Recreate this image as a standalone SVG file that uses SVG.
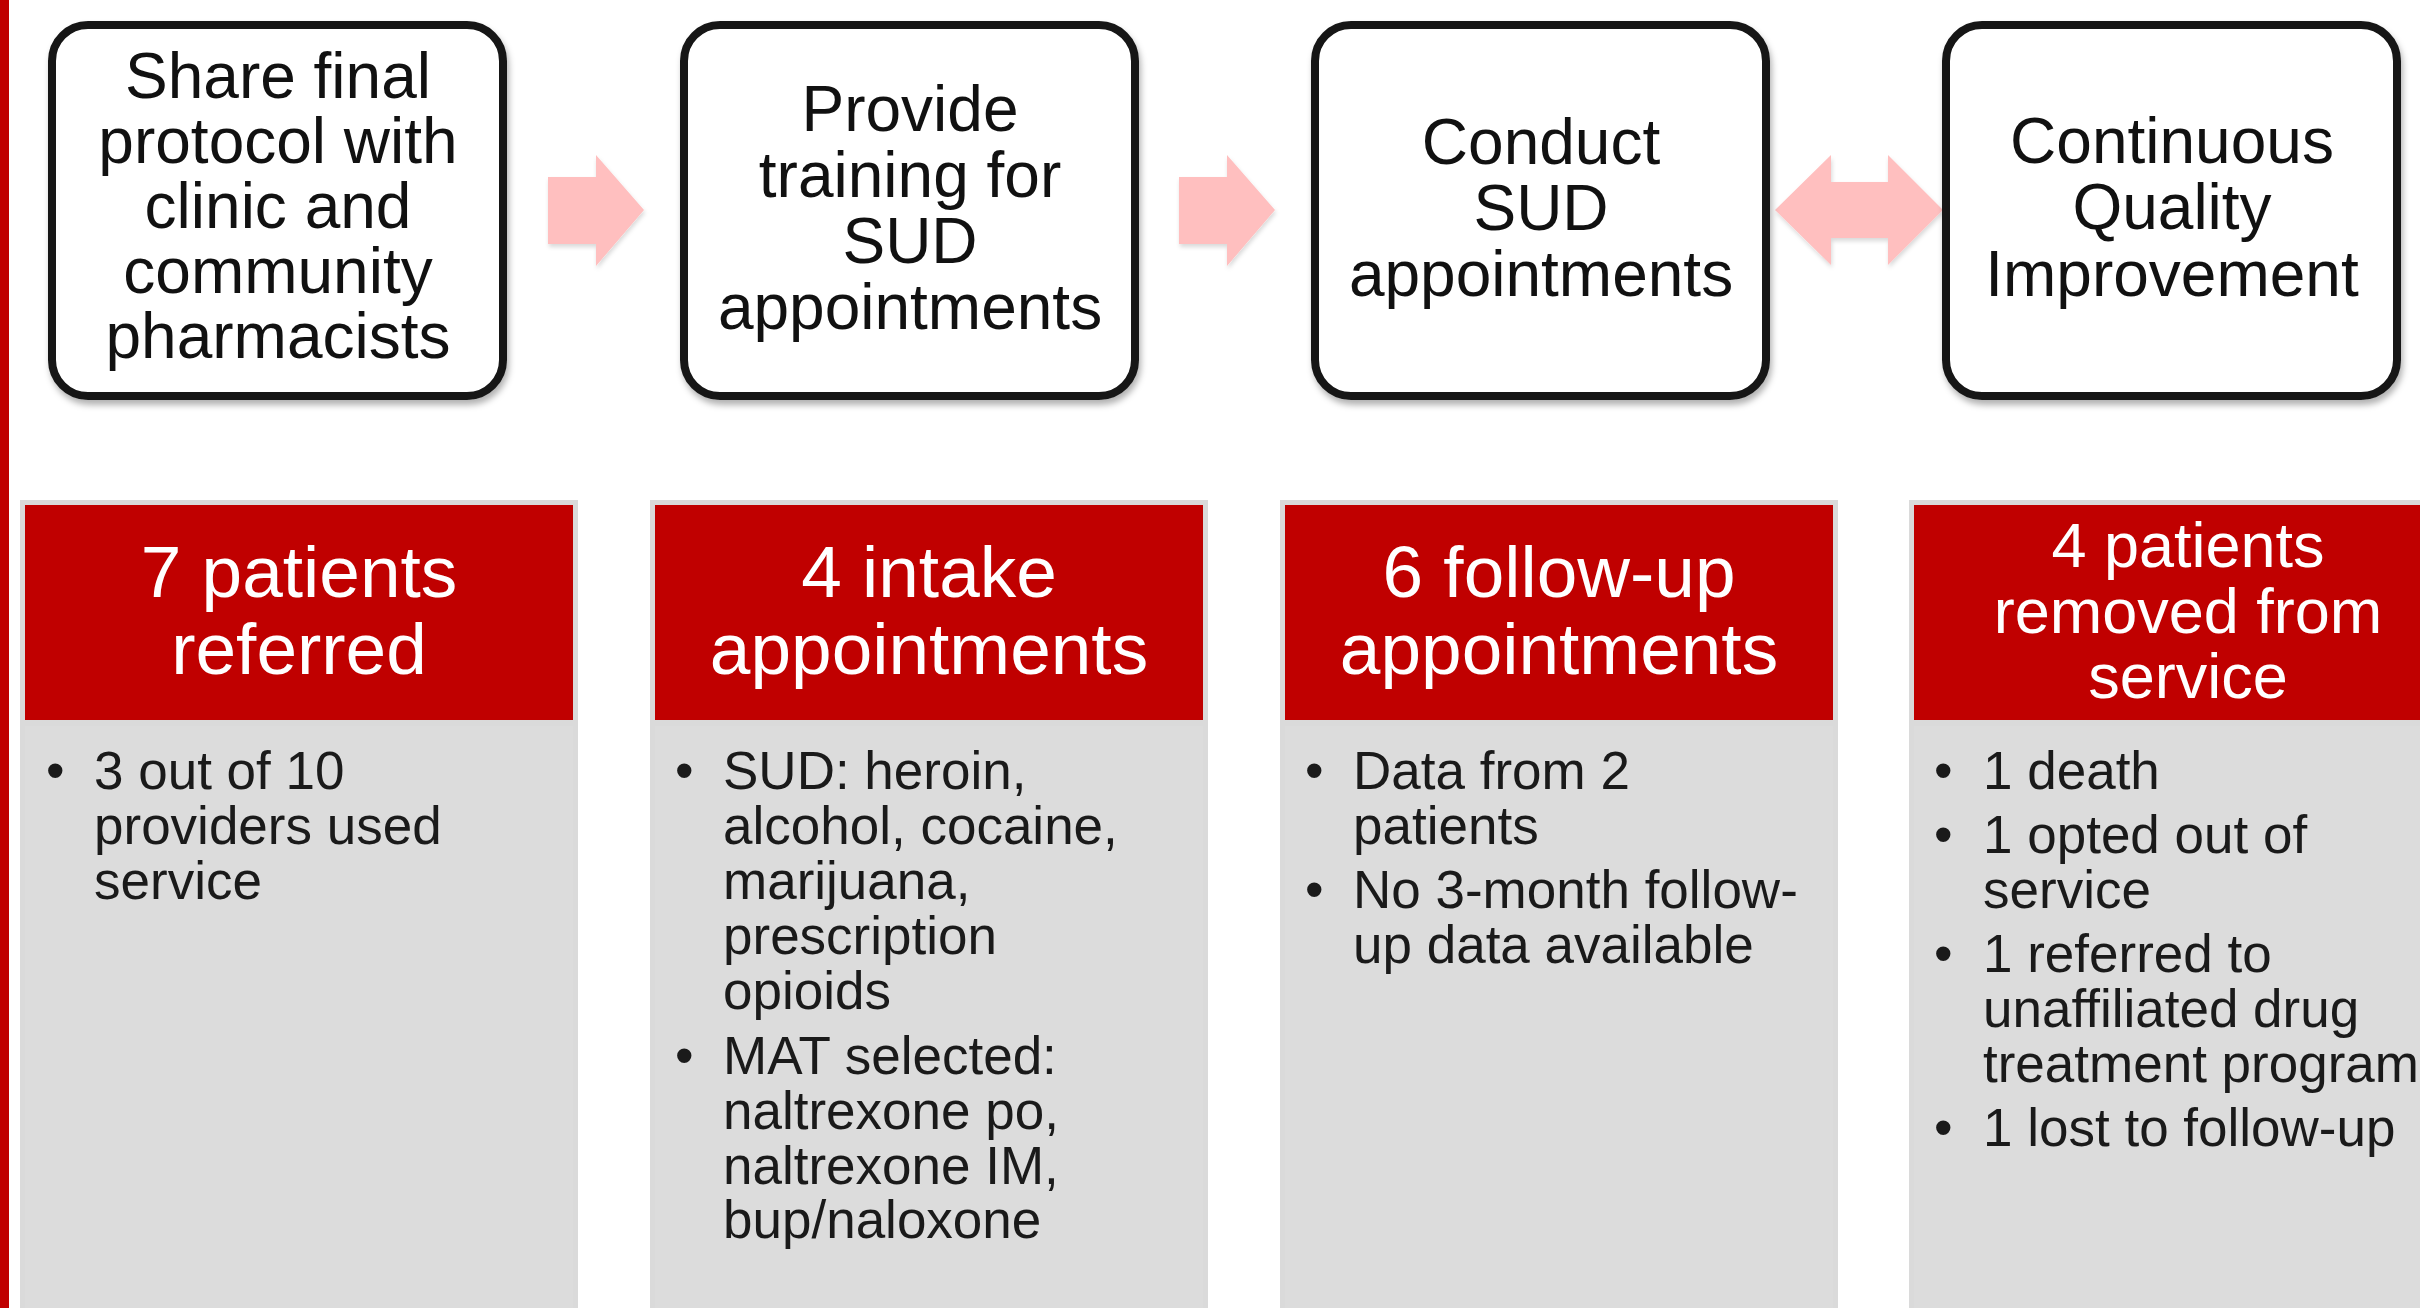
<svg xmlns="http://www.w3.org/2000/svg" width="2420" height="1308" viewBox="0 0 2420 1308">
<defs>
<style>
.box{fill:#ffffff;stroke:#151515;stroke-width:8}
.bt{font-family:"Liberation Sans",Arial,sans-serif;font-size:64px;fill:#111111;text-anchor:middle}
.arr{fill:#ffbfbf}
.pb{fill:#dadada}
.ph{fill:#c00000}
.pg{fill:#dcdcdc}
.ht{font-family:"Liberation Sans",Arial,sans-serif;font-size:73px;fill:#ffffff;text-anchor:middle}
.ht4{font-family:"Liberation Sans",Arial,sans-serif;font-size:63px;fill:#ffffff;text-anchor:middle}
.tx{font-family:"Liberation Sans",Arial,sans-serif;font-size:53px;fill:#1a1a1a}
</style>
<filter id="sh" x="-10%" y="-10%" width="120%" height="130%">
<feDropShadow dx="2" dy="5" stdDeviation="3" flood-color="#000000" flood-opacity="0.3"/>
</filter>
<filter id="ash" x="-10%" y="-10%" width="130%" height="130%">
<feDropShadow dx="1" dy="3" stdDeviation="2" flood-color="#000000" flood-opacity="0.15"/>
</filter>
</defs>
<rect x="0" y="0" width="2420" height="1308" fill="#ffffff"/>
<rect id="leftbar" x="0" y="0" width="9" height="1308" fill="#c00000"/>

<g id="connectors">
<polygon class="arr" filter="url(#ash)" points="548,177 596,177 596,155 644,210 596,266 596,244 548,244"/>
<polygon class="arr" filter="url(#ash)" points="1179,177 1227,177 1227,155 1275,210 1227,266 1227,244 1179,244"/>
<polygon class="arr" filter="url(#ash)" points="1775,210 1831,155 1831,182 1888,182 1888,155 1943,210 1888,265 1888,238 1831,238 1831,265"/>
</g>

<g id="step1">
<rect class="box" filter="url(#sh)" x="52" y="25" width="451" height="371" rx="36"/>
<text class="bt"><tspan x="278" y="98">Share final</tspan><tspan x="278" y="163">protocol with</tspan><tspan x="278" y="228">clinic and</tspan><tspan x="278" y="293">community</tspan><tspan x="278" y="358">pharmacists</tspan></text>
</g>
<g id="step2">
<rect class="box" filter="url(#sh)" x="684" y="25" width="451" height="371" rx="36"/>
<text class="bt"><tspan x="910" y="131">Provide</tspan><tspan x="910" y="197">training for</tspan><tspan x="910" y="263">SUD</tspan><tspan x="910" y="329">appointments</tspan></text>
</g>
<g id="step3">
<rect class="box" filter="url(#sh)" x="1315" y="25" width="451" height="371" rx="36"/>
<text class="bt"><tspan x="1541" y="164">Conduct</tspan><tspan x="1541" y="230">SUD</tspan><tspan x="1541" y="296">appointments</tspan></text>
</g>
<g id="step4">
<rect class="box" filter="url(#sh)" x="1946" y="25" width="451" height="371" rx="36"/>
<text class="bt"><tspan x="2172" y="163">Continuous</tspan><tspan x="2172" y="229">Quality</tspan><tspan x="2172" y="296">Improvement</tspan></text>
</g>

<g id="panel1">
<rect class="pb" x="20" y="500" width="558" height="820"/>
<rect class="ph" x="25" y="505" width="548" height="215"/>
<rect class="pg" x="25" y="726" width="548" height="600"/>
<text class="ht"><tspan x="299" y="597">7 patients</tspan><tspan x="299" y="674">referred</tspan></text>
<text class="tx"><tspan x="46" y="789">•</tspan><tspan x="94" y="789">3 out of 10</tspan><tspan x="94" y="844">providers used</tspan><tspan x="94" y="899">service</tspan></text>
</g>
<g id="panel2">
<rect class="pb" x="650" y="500" width="558" height="820"/>
<rect class="ph" x="655" y="505" width="548" height="215"/>
<rect class="pg" x="655" y="726" width="548" height="600"/>
<text class="ht"><tspan x="929" y="597">4 intake</tspan><tspan x="929" y="674">appointments</tspan></text>
<text class="tx"><tspan x="675" y="789">•</tspan><tspan x="723" y="789">SUD: heroin,</tspan><tspan x="723" y="844">alcohol, cocaine,</tspan><tspan x="723" y="899">marijuana,</tspan><tspan x="723" y="954">prescription</tspan><tspan x="723" y="1009">opioids</tspan><tspan x="675" y="1074">•</tspan><tspan x="723" y="1074">MAT selected:</tspan><tspan x="723" y="1129">naltrexone po,</tspan><tspan x="723" y="1184">naltrexone IM,</tspan><tspan x="723" y="1238">bup/naloxone</tspan></text>
</g>
<g id="panel3">
<rect class="pb" x="1280" y="500" width="558" height="820"/>
<rect class="ph" x="1285" y="505" width="548" height="215"/>
<rect class="pg" x="1285" y="726" width="548" height="600"/>
<text class="ht"><tspan x="1559" y="597">6 follow-up</tspan><tspan x="1559" y="674">appointments</tspan></text>
<text class="tx"><tspan x="1305" y="789">•</tspan><tspan x="1353" y="789">Data from 2</tspan><tspan x="1353" y="844">patients</tspan><tspan x="1305" y="908">•</tspan><tspan x="1353" y="908">No 3-month follow-</tspan><tspan x="1353" y="963">up data available</tspan></text>
</g>
<g id="panel4">
<rect class="pb" x="1909" y="500" width="558" height="820"/>
<rect class="ph" x="1914" y="505" width="548" height="215"/>
<rect class="pg" x="1914" y="726" width="548" height="600"/>
<text class="ht4"><tspan x="2188" y="567">4 patients</tspan><tspan x="2188" y="633">removed from</tspan><tspan x="2188" y="698">service</tspan></text>
<text class="tx"><tspan x="1934" y="789">•</tspan><tspan x="1983" y="789">1 death</tspan><tspan x="1934" y="853">•</tspan><tspan x="1983" y="853">1 opted out of</tspan><tspan x="1983" y="908">service</tspan><tspan x="1934" y="972">•</tspan><tspan x="1983" y="972">1 referred to</tspan><tspan x="1983" y="1027">unaffiliated drug</tspan><tspan x="1983" y="1082">treatment program</tspan><tspan x="1934" y="1146">•</tspan><tspan x="1983" y="1146">1 lost to follow-up</tspan></text>
</g>
</svg>
